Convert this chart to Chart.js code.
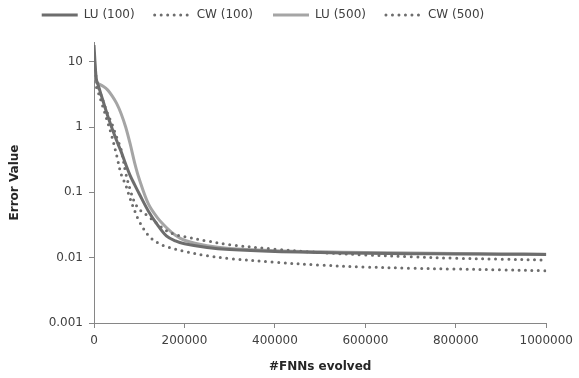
<!DOCTYPE html>
<html>
<head>
<meta charset="utf-8">
<script src="https://cdn.jsdelivr.net/npm/chart.js@4"></script>
<style>
html,body{margin:0;padding:0;background:#fff;}
#wrap{width:579px;height:378px;position:relative;}
</style>
</head>
<body>
<div id="wrap"><canvas id="c" width="579" height="378"></canvas></div>
<script>
const evaluations = [0, 5000, 10000, 20000, 30000, 40000, 50000, 60000, 70000, 80000, 90000, 100000, 120000, 140000, 160000, 180000, 200000, 250000, 300000, 400000, 500000, 600000, 700000, 800000, 900000, 1000000];
const seriesNames = ["LU (100)", "CW (100)", "LU (500)", "CW (500)"];
const lu100 = [18, 5.5, 4.2, 2.5, 1.5, 0.95, 0.62, 0.42, 0.27, 0.18, 0.13, 0.095, 0.052, 0.032, 0.0215, 0.018, 0.0163, 0.0143, 0.0133, 0.0124, 0.012, 0.0117, 0.0115, 0.0114, 0.0113, 0.0112];
const cw100 = [12, 5.5, 4.0, 2.5, 1.6, 1.1, 0.7, 0.45, 0.2, 0.11, 0.07, 0.055, 0.043, 0.033, 0.026, 0.0225, 0.021, 0.018, 0.0158, 0.0135, 0.012, 0.011, 0.0103, 0.0098, 0.0095, 0.0092];
const lu500 = [14, 4.9, 4.6, 4.2, 3.7, 3.0, 2.3, 1.6, 1.0, 0.55, 0.28, 0.16, 0.067, 0.041, 0.029, 0.022, 0.0185, 0.0152, 0.0138, 0.0128, 0.0123, 0.012, 0.0118, 0.0116, 0.0114, 0.0113];
const cw500 = [10, 4.2, 3.3, 2.0, 1.2, 0.7, 0.37, 0.19, 0.13, 0.08, 0.052, 0.036, 0.022, 0.017, 0.0148, 0.0135, 0.0125, 0.0107, 0.0097, 0.0085, 0.0077, 0.0072, 0.0069, 0.0067, 0.0065, 0.0063];
const yTickValues = [0.001, 0.01, 0.1, 1, 10];
const xTickStep = 200000;

function pts(arr){ return evaluations.map((x,i)=>({x:x, y:arr[i]})); }

const dark = '#6d6d6d';
const light = '#a5a5a5';
const solid = (label, data, color) => ({label, data: pts(data), borderColor: color, backgroundColor: color, borderWidth: 3, pointRadius: 0, tension: 0.35, fill: false, borderCapStyle:'butt'});
const dotted = (label, data, color) => ({label, data: pts(data), borderColor: color, backgroundColor: color, borderWidth: 3, borderDash: [0, 6.5], borderCapStyle: 'round', pointRadius: 0, tension: 0.35, fill: false});

Chart.defaults.font.family = "'DejaVu Sans', Verdana, sans-serif";
Chart.defaults.color = '#404040';

const shiftLegend = {
  id: 'shiftLegend',
  afterLayout(chart) {
    const lg = chart.legend;
    if (!lg) return;
    lg.left -= 11; lg.right -= 11;
    lg.top -= 11; lg.bottom -= 11;
  }
};

new Chart(document.getElementById('c'), {
  type: 'line',
  data: {
    datasets: [
      solid(seriesNames[0], lu100, dark),
      dotted(seriesNames[1], cw100, dark),
      solid(seriesNames[2], lu500, light),
      dotted(seriesNames[3], cw500, dark)
    ]
  },
  plugins: [shiftLegend],
  options: {
    responsive: false,
    animation: false,
    layout: {padding: {left: 0, right: 31, top: 0, bottom: 0}},
    plugins: {
      legend: {
        position: 'top',
        labels: {
          usePointStyle: true,
          pointStyle: 'line',
          pointStyleWidth: 36,
          boxHeight: 12,
          padding: 20,
          font: {size: 12},
          color: '#404040',
          generateLabels(chart) {
            return chart.data.datasets.map((ds, i) => ({
              text: ds.label,
              datasetIndex: i,
              fillStyle: ds.borderColor,
              strokeStyle: ds.borderColor,
              lineWidth: 3,
              lineDash: ds.borderDash || [],
              lineCap: ds.borderCapStyle || 'butt',
              pointStyle: 'line',
              hidden: false,
              fontColor: '#404040'
            }));
          }
        }
      },
      tooltip: {enabled: false}
    },
    scales: {
      x: {
        type: 'linear',
        min: 0, max: 1000000,
        ticks: {stepSize: xTickStep, font: {size: 12}, color: '#404040', callback: v => String(v), maxRotation: 0, padding: 6},
        grid: {display: true, drawOnChartArea: false, drawTicks: true, tickLength: 5, color: '#868686'},
        border: {color: '#868686', width: 1},
        title: {display: true, text: '#FNNs evolved', font: {size: 12, weight: 'bold'}, color: '#262626', padding: {top: 4}},
        afterFit: s => { s.height = 55; }
      },
      y: {
        type: 'logarithmic',
        min: 0.001, max: 20,
        afterBuildTicks: s => { s.ticks = yTickValues.map(v => ({value: v})); },
        ticks: {font: {size: 12}, color: '#404040', callback: v => String(v), padding: 6},
        grid: {display: true, drawOnChartArea: false, drawTicks: true, tickLength: 5, color: '#868686'},
        border: {color: '#868686', width: 1},
        title: {display: true, text: 'Error Value', font: {size: 12, weight: 'bold'}, color: '#262626', padding: {top: 8, bottom: 4}},
        afterFit: s => { s.width = 94; }
      }
    }
  }
});
</script>
</body>
</html>
